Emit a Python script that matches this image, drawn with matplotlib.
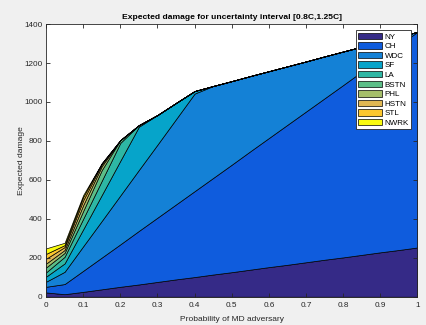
import matplotlib
matplotlib.use("Agg")
import matplotlib.pyplot as plt
import numpy as np

plt.rcParams['font.family'] = ['Liberation Sans', 'DejaVu Sans']

# probability grid and per-city expected damage (stacked layers)
prob = [0, 0.05, 0.1, 0.15, 0.2, 0.25, 0.3, 0.35, 0.4, 0.45, 0.5,
        0.55, 0.6, 0.65, 0.7, 0.75, 0.8, 0.85, 0.9, 0.95, 1.0]
cities = ["NY", "CH", "WDC", "SF", "LA", "BSTN", "PHL", "HSTN", "STL", "NWRK"]

ny   = [22, 13, 25, 38, 51, 63, 76, 89, 101, 114, 126, 139, 152, 164, 177, 190, 202, 215, 228, 240, 253]
ch   = [29, 52, 108, 163, 218, 275, 330, 385, 441, 496, 552, 608, 663, 719, 774, 829, 885, 941, 996, 1052, 1107]
wdc  = [26, 63, 126, 188, 251, 313, 375, 438, 501, 472, 429, 386, 343, 300, 257, 215, 172, 128, 85, 43, 0]
sf   = [26, 43, 87, 133, 178, 222, 152, 83, 13, 0, 0, 0, 0, 0, 0, 0, 0, 0, 0, 0, 0]
la   = [22, 34, 54, 73, 92, 8, 0, 0, 0, 0, 0, 0, 0, 0, 0, 0, 0, 0, 0, 0, 0]
bstn = [25, 20, 40, 55, 14, 0, 0, 0, 0, 0, 0, 0, 0, 0, 0, 0, 0, 0, 0, 0, 0]
phl  = [20, 15, 30, 20, 0, 0, 0, 0, 0, 0, 0, 0, 0, 0, 0, 0, 0, 0, 0, 0, 0]
hstn = [25, 15, 25, 10, 0, 0, 0, 0, 0, 0, 0, 0, 0, 0, 0, 0, 0, 0, 0, 0, 0]
stl  = [25, 10, 17, 5, 0, 0, 0, 0, 0, 0, 0, 0, 0, 0, 0, 0, 0, 0, 0, 0, 0]
nwrk = [28, 12, 10, 0, 0, 0, 0, 0, 0, 0, 0, 0, 0, 0, 0, 0, 0, 0, 0, 0, 0]

colors = ['#352a87', '#0f5cdd', '#1481d6', '#06a4ca', '#2eb7a4',
          '#5cbe87', '#a5be6a', '#e1b854', '#fcc72e', '#f9fb0e']

fig = plt.figure(figsize=(4.26, 3.25), dpi=100, facecolor='#f0f0f0')
ax = fig.add_axes([0.108, 0.087, 0.872, 0.839])

polys = ax.stackplot(prob, ny, ch, wdc, sf, la, bstn, phl, hstn, stl, nwrk,
                     colors=colors, labels=cities,
                     edgecolor='black', linewidth=0.5)

ax.set_xlim(0, 1)
ax.set_ylim(0, 1400)
ax.set_xticks(np.arange(0, 1.01, 0.1))
ax.set_xticklabels(['0', '0.1', '0.2', '0.3', '0.4', '0.5', '0.6', '0.7', '0.8', '0.9', '1'])
ax.set_yticks(np.arange(0, 1401, 200))
ax.tick_params(direction='in', top=True, right=True, length=3, width=0.6,
               labelsize=5.9, colors='#262626')
ax.tick_params(axis='x', pad=4)
ax.tick_params(axis='y', pad=2.5)
for s in ax.spines.values():
    s.set_color('#262626')
    s.set_linewidth(0.6)

ax.set_title('Expected damage for uncertainty interval [0.8C,1.25C]',
             fontsize=6.1, fontweight='bold', pad=3.5)
ax.set_xlabel('Probability of MD adversary', fontsize=6.0, color='#262626', labelpad=4.5)
ax.set_ylabel('Expected damage', fontsize=6.1, color='#262626', labelpad=-0.5)

leg = ax.legend(loc='upper right', fontsize=5.8, fancybox=False, framealpha=1,
                edgecolor='#262626', handlelength=2.9, handleheight=0.85,
                handletextpad=0.4, labelspacing=0.2, borderpad=0.3,
                borderaxespad=0.75)
leg.get_frame().set_linewidth(0.6)

fig.savefig('out.png', dpi=100, facecolor=fig.get_facecolor())
